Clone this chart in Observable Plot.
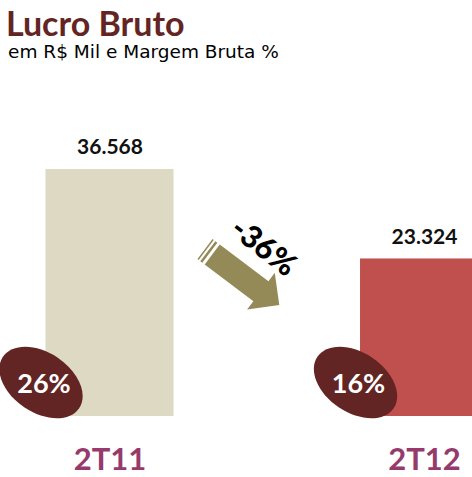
<!DOCTYPE html>
<html>
<head>
<meta charset="utf-8">
<script src="https://cdn.jsdelivr.net/npm/d3@7"></script>
<script src="https://cdn.jsdelivr.net/npm/@observablehq/plot@0.6"></script>
<style>
  html, body { margin: 0; padding: 0; background: #fff; overflow: hidden; }
  #hdr { position: relative; height: 62px; }
  #title { position: absolute; left: 6px; top: 7px; font: 700 34px Lato, sans-serif; line-height: 32px; color: #632523; white-space: nowrap; }
  #sub { position: absolute; left: 8px; top: 43px; font: 400 18.5px "DejaVu Sans", sans-serif; line-height: 17px; color: #000; white-space: nowrap; }
</style>
</head>
<body>
<div id="hdr">
  <div id="title">Lucro Bruto</div>
  <div id="sub">em R$ Mil e Margem Bruta %</div>
</div>
<div id="chart"></div>
<script>
// ---- data ----
const categories = ["2T11", "2T12"];
const grossProfit = [36568, 23324];      // R$ Mil
const grossMargin = [26, 16];            // %
const barColors = ["#DDD9C3", "#C0504D"];

const data = categories.map((c, i) => ({cat: c, value: grossProfit[i], margin: grossMargin[i]}));
const change = [{pct: Math.round((grossProfit[1] / grossProfit[0] - 1) * 100)}];

const br = d3.formatLocale({decimal: ",", thousands: ".", grouping: [3], currency: ["R$", ""]});
const fmt = br.format(",d");

// rotated ellipse symbol
const ellipseSymbol = {
  draw(ctx) {
    const a = 46, b = 30, t = 34 * Math.PI / 180, k = 0.5523;
    const ux = a * Math.cos(t), uy = a * Math.sin(t);
    const vx = -b * Math.sin(t), vy = b * Math.cos(t);
    ctx.moveTo(ux, uy);
    ctx.bezierCurveTo(ux + k * vx, uy + k * vy, vx + k * ux, vy + k * uy, vx, vy);
    ctx.bezierCurveTo(vx - k * ux, vy - k * uy, -ux + k * vx, -uy + k * vy, -ux, -uy);
    ctx.bezierCurveTo(-ux - k * vx, -uy - k * vy, -vx - k * ux, -vy - k * uy, -vx, -vy);
    ctx.bezierCurveTo(-vx + k * ux, -vy + k * uy, ux - k * vx, uy - k * vy, ux, uy);
    ctx.closePath();
  }
};

// striped block arrow symbol (pointing along +37deg)
const arrowSymbol = {
  draw(ctx) {
    const th = 37 * Math.PI / 180, c = Math.cos(th), s = Math.sin(th);
    const P = ([u, w]) => [u * c - w * s, u * s + w * c];
    const poly = pts => {
      pts.map(P).forEach(([x, y], i) => i ? ctx.lineTo(x, y) : ctx.moveTo(x, y));
      ctx.closePath();
    };
    poly([[0, -12.5], [61, -12.5], [61, -23], [84, 0], [61, 23], [61, 12.5], [0, 12.5]]);
    poly([[-9, -12.5], [-7.5, -12.5], [-7.5, 12.5], [-9, 12.5]]);
    poly([[-5.5, -12.5], [-3, -12.5], [-3, 12.5], [-5.5, 12.5]]);
  }
};

const chart = Plot.plot({
  width: 472,
  height: 415,
  marginTop: 20,
  marginBottom: 61,
  marginLeft: 0,
  marginRight: 0,
  style: {fontFamily: "Lato, sans-serif", background: "transparent", overflow: "hidden"},
  x: {type: "band", domain: categories, range: [-1.675, 535.2], paddingInner: 0.593, paddingOuter: 0.15, align: 0.5, round: false, axis: null},
  y: {domain: [0, 49450], axis: null},
  color: {domain: categories, range: barColors},
  marks: [
    Plot.barY(data, {x: "cat", y: "value", fill: "cat"}),
    Plot.text(data, {x: "cat", y: "value", text: d => fmt(d.value), dy: -22, lineAnchor: "middle", fontSize: 21, fontWeight: 700, fill: "#111"}),
    Plot.dot(change, {frameAnchor: "top-left", dx: 211.7, dy: 172, symbol: arrowSymbol, r: 10, fill: "#948A58", stroke: "none"}),
    Plot.text(change, {frameAnchor: "top-left", dx: 263, dy: 165, text: d => `${d.pct}%`, rotate: 38, lineAnchor: "middle", textAnchor: "middle", fontSize: 31, fontWeight: 900, fill: "#000"}),
    Plot.dot(data, {x: "cat", frameAnchor: "bottom", dx: -69, dy: -34, symbol: ellipseSymbol, r: 10, fill: "#632523", stroke: "none"}),
    Plot.text(data, {x: "cat", frameAnchor: "bottom", dx: -66, dy: -32, text: d => `${d.margin}%`, lineAnchor: "middle", fontSize: 27, fontWeight: 700, fill: "#fff"}),
    Plot.text(data, {x: "cat", frameAnchor: "bottom", dy: 44, text: "cat", lineAnchor: "middle", fontSize: 31, fontWeight: 700, fill: "#953A6B"})
  ]
});
document.getElementById("chart").appendChild(chart);
</script>
</body>
</html>
